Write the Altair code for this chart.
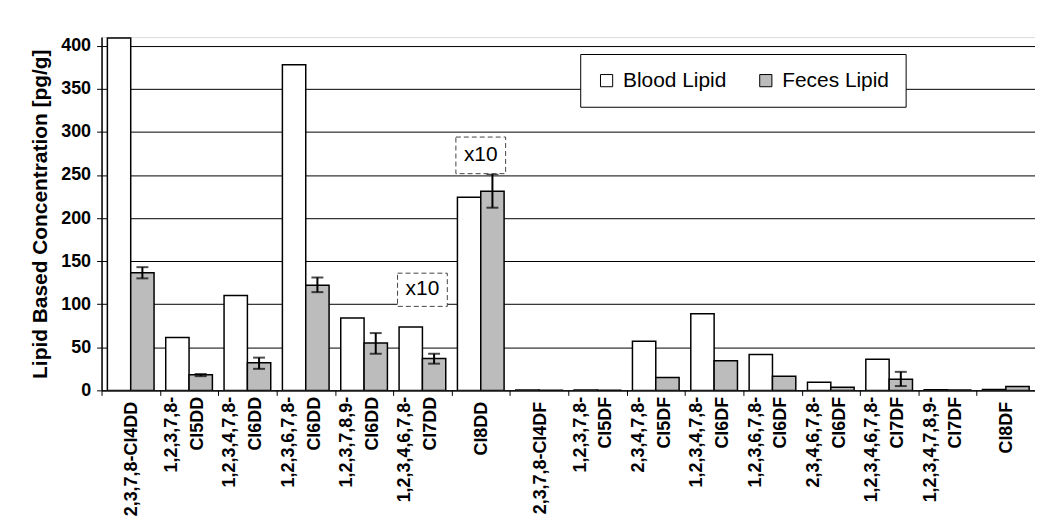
import altair as alt
import pandas as pd

categories = [
    "2,3,7,8-Cl4DD", "1,2,3,7,8-\nCl5DD", "1,2,3,4,7,8-\nCl6DD", "1,2,3,6,7,8-\nCl6DD",
    "1,2,3,7,8,9-\nCl6DD", "1,2,3,4,6,7,8-\nCl7DD", "Cl8DD", "2,3,7,8-Cl4DF",
    "1,2,3,7,8-\nCl5DF", "2,3,4,7,8-\nCl5DF", "1,2,3,4,7,8-\nCl6DF", "1,2,3,6,7,8-\nCl6DF",
    "2,3,4,6,7,8-\nCl6DF", "1,2,3,4,6,7,8-\nCl7DF", "1,2,3,4,7,8,9-\nCl7DF", "Cl8DF",
]
series = ["Blood Lipid", "Feces Lipid"]
blood = [409, 61.5, 110, 378, 84, 73.5, 224, 0.3, 0.3, 57, 89, 41.5, 9.3, 36, 0.6, 1.0]
feces = [136.5, 18, 32, 122, 55, 37, 231, 0.2, 0.2, 15, 34.5, 16.5, 3.5, 13, 0.4, 4.5]
err_lo = [130, 16.5, 25, 114, 42.5, 31, 212, None, None, None, None, None, None, 5, None, None]
err_hi = [143, 19, 38, 131, 66.5, 42.5, 251, None, None, None, None, None, None, 21.5, None, None]

note_cats = ["1,2,3,4,6,7,8-\nCl7DD", "Cl8DD"]
note_text = ["x10", "x10"]
note_y = [117.5, 273.5]
note_box_lo = [97.5, 251.5]
note_box_hi = [136.0, 294.0]

FONT = "Liberation Sans"

rows = []
for c, b, f in zip(categories, blood, feces):
    rows.append({"cat": c, "series": series[0], "value": b})
    rows.append({"cat": c, "series": series[1], "value": f})
bars_df = pd.DataFrame(rows)

err_df = pd.DataFrame([
    {"cat": c, "series": series[1], "lo": lo, "hi": hi}
    for c, lo, hi in zip(categories, err_lo, err_hi) if lo is not None
])

note_df = pd.DataFrame({
    "cat": note_cats, "text": note_text, "y": note_y,
    "lo": note_box_lo, "hi": note_box_hi,
})

x_scale = alt.Scale(domain=categories, paddingInner=0, paddingOuter=0)
label_common = dict(
    title=None, orient="bottom", labelAngle=-90, labelAlign="right", labelBaseline="middle",
    labelFont=FONT, labelFontSize=18, labelFontWeight="bold", labelColor="black",
    labelLimit=300, labelPadding=6, grid=False,
)
# axis 1: ticks, domain and single-line labels
axis_main = alt.Axis(
    **label_common,
    labelExpr="indexof(datum.label, '\\n') >= 0 ? '' : datum.label",
    labelOffset=1,
    tickBand="extent", ticks=True, tickSize=5, tickColor="black",
    domain=True, domainColor="black", domainWidth=1.5,
)
# axis 2: first line of two-line labels
axis_l1 = alt.Axis(
    **label_common,
    labelExpr="indexof(datum.label, '\\n') >= 0 ? split(datum.label, '\\n')[0] : ''",
    labelOffset=-17, ticks=False, domain=False,
)
# axis 3: second line of two-line labels
axis_l2 = alt.Axis(
    **label_common,
    labelExpr="indexof(datum.label, '\\n') >= 0 ? split(datum.label, '\\n')[1] : ''",
    labelOffset=9, ticks=False, domain=False,
)

xoff_enc = alt.XOffset(
    "series:N", sort=series,
    scale=alt.Scale(domain=series, paddingOuter=0.25, paddingInner=0),
)
y_scale = alt.Scale(domain=[0, 410], nice=False)

bars = alt.Chart(bars_df).mark_bar(stroke="black", strokeWidth=1.5, clip=True).encode(
    x=alt.X("cat:N", sort=categories, scale=x_scale, axis=axis_main),
    xOffset=xoff_enc,
    y=alt.Y(
        "value:Q", scale=y_scale,
        axis=alt.Axis(
            title="Lipid Based Concentration [pg/g]", values=list(range(0, 401, 50)),
            titleFont=FONT, titleFontSize=21, titleFontWeight="bold", titleColor="black",
            titlePadding=10,
            labelFont=FONT, labelFontSize=18, labelFontWeight="bold", labelColor="black",
            labelPadding=6, tickSize=5, tickColor="black",
            domainColor="black", domainWidth=1.5,
            grid=True, gridColor="black", gridWidth=1,
        ),
    ),
    color=alt.Color(
        "series:N", sort=series,
        scale=alt.Scale(domain=series, range=["white", "#bcbcbc"]),
        legend=alt.Legend(
            title=None, orient="none", legendX=481, legendY=17, direction="horizontal",
            symbolType="square", symbolSize=150, symbolStrokeColor="black",
            symbolStrokeWidth=1, labelFont=FONT, labelFontSize=21, labelColor="black",
            labelOffset=6, columnPadding=29, padding=16, strokeColor="black",
            fillColor="white",
        ),
    ),
)

err_rule = alt.Chart(err_df).mark_rule(color="black", strokeWidth=2).encode(
    x=alt.X("cat:N", sort=categories, axis=axis_l1),
    xOffset=alt.XOffset("series:N", sort=series),
    y=alt.Y("lo:Q", scale=y_scale),
    y2="hi:Q",
)
err_top = alt.Chart(err_df).mark_tick(color="black", thickness=2, size=12, orient="horizontal").encode(
    x=alt.X("cat:N", sort=categories, axis=axis_l2),
    xOffset=alt.XOffset("series:N", sort=series),
    y=alt.Y("hi:Q", scale=y_scale),
)
err_bot = alt.Chart(err_df).mark_tick(color="black", thickness=2, size=12, orient="horizontal").encode(
    x=alt.X("cat:N", sort=categories, axis=None),
    xOffset=alt.XOffset("series:N", sort=series),
    y=alt.Y("lo:Q", scale=y_scale),
)

note_box = alt.Chart(note_df).mark_bar(
    width=50, fill="white", stroke="#444", strokeWidth=1, strokeDash=[5, 3]
).encode(
    x=alt.X("cat:N", sort=categories, axis=None),
    y=alt.Y("lo:Q", scale=y_scale),
    y2="hi:Q",
)
note_txt = alt.Chart(note_df).mark_text(
    font=FONT, fontSize=21, color="black", baseline="middle", align="center"
).encode(
    x=alt.X("cat:N", sort=categories, axis=None),
    y=alt.Y("y:Q", scale=y_scale),
    text="text:N",
)

chart = alt.layer(bars, err_rule, err_top, err_bot, note_box, note_txt).resolve_axis(
    x="independent"
).properties(
    width=938, height=355,
    autosize=alt.AutoSizeParams(type="none"),
    padding={"left": 94, "top": 28, "right": 0, "bottom": 125},
).configure_view(stroke="black", strokeWidth=1.5).configure(background="white")

chart.save("out.html", embed_options={"renderer": "svg", "actions": False})
